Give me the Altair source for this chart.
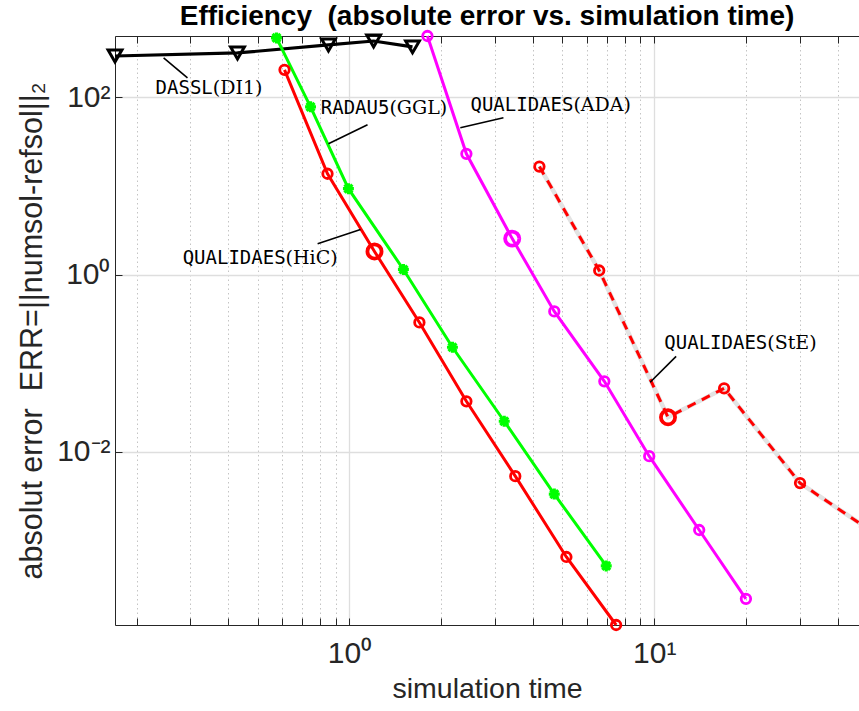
import altair as alt
import pandas as pd

# simulation time [s] and absolute error ||numsol-refsol||_2 of every run
dassl_time = [0.170, 0.429, 0.853, 1.20, 1.61]
dassl_err = [292, 316, 389, 431, 370]

radau_time = [0.576, 0.745, 0.992, 1.503, 2.177, 3.22, 4.70, 6.96]
radau_err = [467, 78, 9.3, 1.14, 0.151, 0.0221, 0.00333, 5.15e-4]

hic_time = [0.612, 0.847, 1.208, 1.696, 2.419, 3.50, 5.15, 7.50]
hic_err = [204, 13.7, 1.82, 0.288, 0.0371, 0.00531, 6.5e-4, 1.11e-4]

ada_time = [1.802, 2.419, 3.42, 4.70, 6.86, 9.63, 14.05, 20.0]
ada_err = [491, 23.0, 2.54, 0.383, 0.0624, 0.00892, 0.00131, 2.19e-4]

ste_time = [4.20, 6.60, 11.1, 16.96, 30.1, 49.2]
ste_err = [16.5, 1.11, 0.0245, 0.052, 0.00443, 0.00142]

# run drawn with a bigger marker in each QUALIDAES series
hic_pick, ada_pick, ste_pick = 2, 2, 2

# curve labels: typewriter solver name + method in parentheses
label_name = ["DASSL", "RADAU5", "QUALIDAES", "QUALIDAES", "QUALIDAES"]
label_method = ["(DI1)", "(GGL)", "(ADA)", "(HiC)", "(StE)"]
label_time = [0.356, 1.352, 5.43, 0.617, 23.5]
label_err = [127, 75.6, 81.7, 1.53, 0.168]

# leader lines from label to curve
lead_time = [0.2455, 0.853, 2.31, 0.786, 9.70]
lead_err = [278, 29.9, 45.2, 2.23, 0.0608]
lead_time2 = [0.294, 1.146, 3.20, 1.087, 11.8]
lead_err2 = [165, 48.9, 58.6, 3.21, 0.119]

# axes
x_domain = [0.170, 47.0]
y_domain = [1.11e-4, 491]
x_major = [1, 10]
x_major_labels = ["10⁰", "10¹"]
x_minor = [0.2, 0.3, 0.4, 0.5, 0.6, 0.7, 0.8, 0.9,
           2, 3, 4, 5, 6, 7, 8, 9, 20, 30, 40]
y_major = [100, 1, 0.01]
y_major_labels = ["10²", "10⁰", "10⁻²"]

SANS = "Liberation Sans, Arial, Helvetica, sans-serif"
MONO = "DejaVu Sans Mono, monospace"
SERIF = "DejaVu Serif, serif"
NBSP = "\u00a0"


def series(times, errs, pick=None):
    return pd.DataFrame({
        "t": times,
        "err": errs,
        "big": [i == pick for i in range(len(times))],
    })


def label_expr(values, labels):
    expr = "''"
    for v, s in zip(reversed(values), reversed(labels)):
        expr = f"datum.value == {v} ? '{s}' : {expr}"
    return expr


x_ticks = sorted(x_major + x_minor)
major_test_x = "indexof(" + str(x_major) + ", datum.value) >= 0"

x_scale = alt.Scale(type="log", domain=x_domain, nice=False, zero=False)
y_scale = alt.Scale(type="log", domain=y_domain, nice=False, zero=False)

x_axis = alt.Axis(
    title="simulation time",
    values=x_ticks,
    labelExpr=label_expr(x_major, x_major_labels),
    labelFont=SANS, labelFontSize=30, labelColor="#262626",
    labelPadding=20, labelFlush=False, labelOverlap=False,
    titleFont=SANS, titleFontSize=28.5, titleFontWeight="normal",
    titleColor="#262626", titlePadding=6,
    tickSize={"expr": "-7"}, tickColor="#262626", tickWidth=1,
    domainColor="#262626", domainWidth=1,
    grid=True,
    gridColor={"condition": {"test": major_test_x, "value": "#dedede"},
               "value": "#c4c4c4"},
    gridDash={"condition": {"test": major_test_x, "value": []},
              "value": [1.5, 3]},
    gridWidth={"condition": {"test": major_test_x, "value": 1.3},
               "value": 1},
)

y_axis = alt.Axis(
    title="absolut error " + NBSP + "ERR=||numsol-refsol||₂",
    values=y_major,
    labelExpr=label_expr(y_major, y_major_labels),
    labelFont=SANS, labelFontSize=30, labelColor="#262626",
    labelPadding=12, labelFlush=False, labelOverlap=False,
    titleFont=SANS, titleFontSize=30.5, titleFontWeight="normal",
    titleColor="#262626", titlePadding=9,
    tickSize={"expr": "-7"}, tickColor="#262626", tickWidth=1,
    domainColor="#262626", domainWidth=1,
    grid=True, gridColor="#dedede", gridWidth=1.3,
)

X = alt.X("t:Q", scale=x_scale, axis=x_axis)
Y = alt.Y("err:Q", scale=y_scale, axis=y_axis)

asterisk = ("M-1,0L1,0M0,-1L0,1M-0.72,-0.72L0.72,0.72"
            "M-0.72,0.72L0.72,-0.72")


def line(df, color, width=3, dash=None):
    kw = dict(color=color, strokeWidth=width, clip=False)
    if dash:
        kw["strokeDash"] = dash
    return alt.Chart(df).mark_line(**kw).encode(x=X, y=Y)


def circles(df, color):
    return alt.Chart(df).mark_point(
        shape="circle", filled=False, color=color, clip=False, opacity=1
    ).encode(
        x=X, y=Y,
        size=alt.condition("datum.big", alt.value(200), alt.value(90)),
        strokeWidth=alt.condition("datum.big", alt.value(3.8), alt.value(2.8)),
    )


dassl = series(dassl_time, dassl_err)
radau = series(radau_time, radau_err)
hic = series(hic_time, hic_err, hic_pick)
ada = series(ada_time, ada_err, ada_pick)
ste = series(ste_time, ste_err, ste_pick)

dassl_layer = line(dassl, "black", width=3.2) + alt.Chart(dassl).mark_point(
    shape="triangle-down", filled=False, color="black", size=190,
    strokeWidth=3, opacity=1, clip=False).encode(x=X, y=Y)

radau_layer = line(radau, "#00ff00") + alt.Chart(radau).mark_point(
    shape=asterisk, filled=False, color="#00ff00", size=120,
    strokeWidth=3.2, opacity=1, clip=False).encode(x=X, y=Y)

hic_layer = line(hic, "#ff0000") + circles(hic, "#ff0000")
ada_layer = line(ada, "#ff00ff") + circles(ada, "#ff00ff")
ste_layer = (line(ste, "#e3e3e3", width=4.5)
             + line(ste, "#ff0000", width=3, dash=[9, 7])
             + circles(ste, "#ff0000"))

leads = pd.DataFrame({"t": lead_time, "err": lead_err,
                      "t2": lead_time2, "err2": lead_err2})
lead_layer = alt.Chart(leads).mark_rule(color="black", strokeWidth=1.6).encode(
    x=X, y=Y, x2="t2:Q", y2="err2:Q")

labels = pd.DataFrame({"t": label_time, "err": label_err,
                       "name": label_name, "method": label_method})
name_layer = alt.Chart(labels).mark_text(
    align="right", baseline="middle", font=MONO, fontSize=19, color="black"
).encode(x=X, y=Y, text="name:N")
method_layer = alt.Chart(labels).mark_text(
    align="left", baseline="middle", font=SERIF, fontSize=19, color="black"
).encode(x=X, y=Y, text="method:N")

plot = alt.layer(dassl_layer, radau_layer, hic_layer, ada_layer, ste_layer,
                 lead_layer, name_layer, method_layer)

# upper frame edge with inward ticks
top_axis = alt.Axis(
    orient="top", values=x_ticks, labels=False, title=None, grid=False,
    tickSize={"expr": "-7"}, tickColor="#262626", tickWidth=1,
    domainColor="#262626", domainWidth=1,
)
top_layer = alt.Chart(dassl).mark_point(opacity=0).encode(
    x=alt.X("t:Q", scale=x_scale, axis=top_axis))

chart = alt.layer(plot, top_layer).resolve_axis(x="independent").properties(
    width=744,
    height=589,
    autosize=alt.AutoSizeParams(type="none"),
    padding={"left": 115, "top": 36, "right": 0, "bottom": 86},
    title=alt.TitleParams(
        "Efficiency " + NBSP + "(absolute error vs. simulation time)",
        font=SANS, fontSize=28, fontWeight="bold", color="black",
        anchor="middle", offset=-5,
    ),
).configure_view(stroke=None).configure(background="white")

chart.save("out.html", embed_options={"renderer": "svg", "actions": False})
